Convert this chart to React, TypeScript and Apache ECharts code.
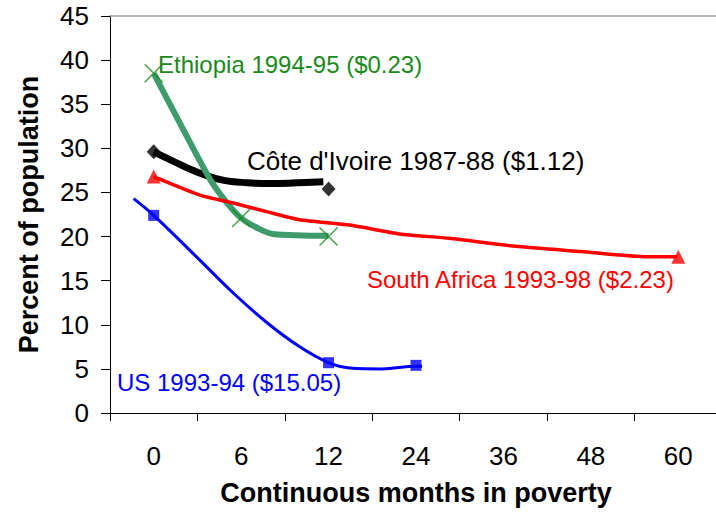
import React, { useEffect, useRef } from "react";
import * as echarts from "echarts";

const categories = ["0", "6", "12", "24", "36", "48", "60"];

// Marker values at category positions (percent of population)
const usMarkers = [22.4, null, 5.7, 5.4, null, null, null];
const ethiopiaMarkers = [38.5, 22.1, 20.0, null, null, null, null];
const coteMarkers = [29.6, null, 25.4, null, null, null, null];
const southAfricaMarkers = [26.8, null, null, null, null, null, 17.7];

// Smoothed curves (x in category-index units)
const usCurveX = [-0.23, 0, 0.53, 0.91, 1.3, 1.67, 2.0, 2.24, 2.61, 3.0, 3.07];
const usCurveY = [24.3, 22.4, 17.3, 13.6, 10.2, 7.5, 5.7, 5.1, 5.0, 5.3, 5.3];
const ethCurveX = [0, 0.34, 0.65, 0.84, 1.0, 1.18, 1.36, 2.0];
const ethCurveY = [38.5, 32.1, 26.4, 23.8, 22.1, 21.0, 20.3, 20.1];
const coteCurveX = [0, 0.19, 0.5, 0.79, 1.07, 1.36, 1.64, 1.94];
const coteCurveY = [29.6, 28.7, 27.3, 26.4, 26.1, 26.0, 26.1, 26.2];
const saCurveX = [0, 0.53, 0.91, 1.3, 1.67, 2.24, 2.81, 3.38, 4.14, 4.89, 5.65, 5.99];
const saCurveY = [26.8, 24.7, 23.8, 22.8, 21.9, 21.3, 20.3, 19.8, 18.9, 18.3, 17.7, 17.7];

const labels = {
  ethiopia: "Ethiopia 1994-95 ($0.23)",
  cote: "Côte d'Ivoire 1987-88 ($1.12)",
  southAfrica: "South Africa 1993-98 ($2.23)",
  us: "US 1993-94 ($15.05)",
};

const FONT = "'Liberation Sans', Arial, sans-serif";

const pairs = (xs: number[], ys: number[]) => xs.map((x, i) => [x, ys[i]]);
const markers = (vals: (number | null)[]) => vals.map((v) => (v === null ? "-" : v));

export default function App() {
  const ref = useRef<HTMLDivElement>(null);
  useEffect(() => {
    if (!ref.current) return;
    const chart = echarts.init(ref.current, undefined, { renderer: "svg" });
    const txt = (text: string, x: number, y: number, size: number, color: string) => ({
      type: "text",
      x,
      y,
      silent: true,
      style: {
        text,
        font: `${size}px ${FONT}`,
        fill: color,
        align: "left",
        verticalAlign: "middle",
      },
    });
    chart.setOption({
      animation: false,
      textStyle: { fontFamily: FONT },
      grid: {
        left: 110,
        top: 16,
        width: 612,
        height: 397,
        show: false,
      },
      xAxis: [
        {
          type: "category",
          data: categories,
          boundaryGap: true,
          axisLine: { show: true, onZero: false, lineStyle: { color: "#000", width: 1 } },
          axisTick: { show: true, length: 8, lineStyle: { color: "#000" } },
          axisLabel: { fontSize: 26, color: "#000", margin: 30, fontFamily: FONT },
          splitLine: { show: false },
          name: "Continuous months in poverty",
          nameLocation: "middle",
          nameGap: 66,
          nameTextStyle: { fontSize: 27, fontWeight: "bold", color: "#000", fontFamily: FONT },
        },
        {
          type: "value",
          min: -0.5,
          max: 6.5,
          show: false,
          position: "bottom",
          axisLine: { show: false, onZero: false },
          splitLine: { show: false },
        },
        {
          type: "category",
          data: categories,
          position: "top",
          axisLine: { show: true, onZero: false, lineStyle: { color: "#a0a0a0", width: 1.5 } },
          axisTick: { show: false },
          axisLabel: { show: false },
          splitLine: { show: false },
        },
      ],
      yAxis: {
        type: "value",
        min: 0,
        max: 45,
        interval: 5,
        axisLine: { show: true, onZero: false, lineStyle: { color: "#000", width: 1 } },
        axisTick: { show: true, length: 9, lineStyle: { color: "#000" } },
        axisLabel: { fontSize: 26, color: "#000", margin: 21, fontFamily: FONT },
        splitLine: { show: false },
        name: "Percent of population",
        nameLocation: "middle",
        nameGap: 68,
        nameTextStyle: { fontSize: 27, fontWeight: "bold", color: "#000", fontFamily: FONT },
      },
      series: [
        {
          name: "US curve",
          type: "line",
          xAxisIndex: 1,
          data: pairs(usCurveX, usCurveY),
          smooth: 0.4,
          showSymbol: false,
          lineStyle: { color: "#0000ff", width: 3 },
          z: 2,
        },
        {
          name: "Cote curve",
          type: "line",
          xAxisIndex: 1,
          data: pairs(coteCurveX, coteCurveY),
          smooth: 0.4,
          showSymbol: false,
          lineStyle: { color: "#000", width: 7 },
          z: 2,
        },
        {
          name: "Ethiopia curve",
          type: "line",
          xAxisIndex: 1,
          data: pairs(ethCurveX, ethCurveY),
          smooth: 0.3,
          showSymbol: false,
          lineStyle: { color: "#3d9b6c", width: 6 },
          z: 3,
        },
        {
          name: "South Africa curve",
          type: "line",
          xAxisIndex: 1,
          data: pairs(saCurveX, saCurveY),
          smooth: 0.2,
          showSymbol: false,
          lineStyle: { color: "#ff0000", width: 3.5 },
          z: 4,
        },
        {
          name: "US",
          type: "scatter",
          xAxisIndex: 0,
          data: markers(usMarkers),
          symbol: "rect",
          symbolSize: 11,
          itemStyle: { color: "#0000ff" },
          z: 5,
        },
        {
          name: "Cote",
          type: "scatter",
          xAxisIndex: 0,
          data: markers(coteMarkers),
          symbol: "diamond",
          symbolSize: [14, 15],
          itemStyle: { color: "#000" },
          z: 5,
        },
        {
          name: "South Africa",
          type: "scatter",
          xAxisIndex: 0,
          data: markers(southAfricaMarkers),
          symbol: "triangle",
          symbolSize: 14,
          itemStyle: { color: "#ff0000" },
          z: 5,
        },
        {
          name: "Ethiopia",
          type: "scatter",
          xAxisIndex: 0,
          data: markers(ethiopiaMarkers),
          symbol: "path://M0,0L10,10M10,0L0,10",
          symbolSize: 18,
          itemStyle: { color: "transparent", borderColor: "#1a8a1a", borderWidth: 1.5 },
          z: 6,
        },
      ],
      graphic: [
        txt(labels.ethiopia, 158, 64, 24, "#1a8a1a"),
        txt(labels.cote, 247, 161, 26, "#000"),
        txt(labels.southAfrica, 367, 279, 24, "#ff0000"),
        txt(labels.us, 117, 382, 24, "#0000ff"),
      ],
    });
    return () => chart.dispose();
  }, []);
  return (
    <div
      style={{
        position: "fixed",
        left: 0,
        top: 0,
        width: 716,
        height: 512,
        overflow: "hidden",
        background: "#fff",
      }}
    >
      <div ref={ref} style={{ width: 740, height: 512 }} />
    </div>
  );
}
